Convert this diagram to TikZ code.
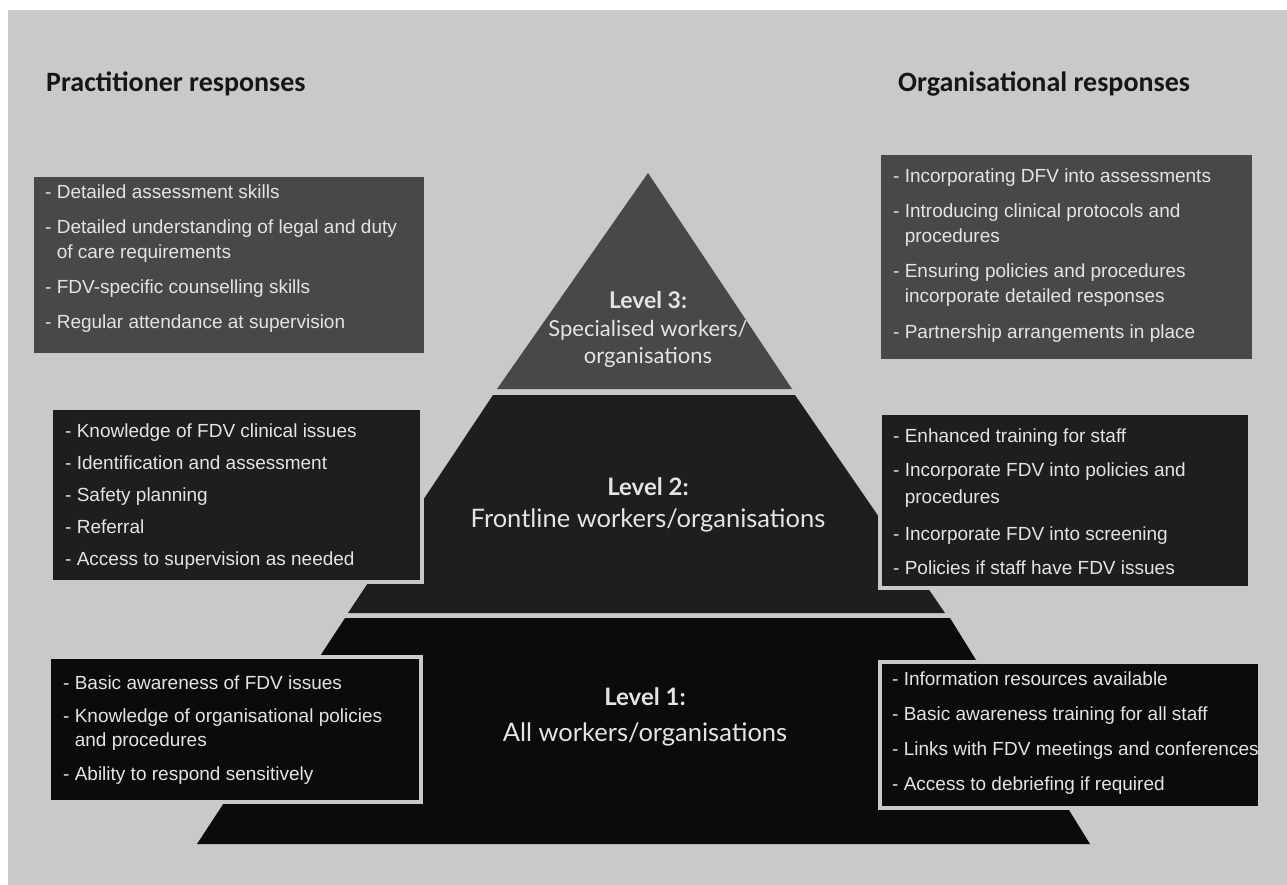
\documentclass[tikz,border=0pt]{standalone}
\usepackage{fontspec}
\setmainfont{Liberation Sans}
\newfontfamily\lvlfont{Lato}
\newfontfamily\ttlfont{Carlito}
\definecolor{bg}{HTML}{C9C9C9}
\definecolor{cthree}{HTML}{484848}
\definecolor{ctwo}{HTML}{1E1E1E}
\definecolor{cone}{HTML}{0B0B0B}
\definecolor{txt}{HTML}{E4E4E4}
\definecolor{ttl}{HTML}{161616}
\newcommand{\ci}{\hphantom{- }}
\newenvironment{lines}{\begin{tabular}[t]{@{}l@{}}}{\end{tabular}}
\begin{document}
\begin{tikzpicture}[x=1pt,y=-1pt,
  box/.style={draw=bg, line width=4pt, inner sep=0pt},
  boxtext/.style={anchor=base west, inner sep=0pt, text=txt,
    font=\fontsize{19}{25}\selectfont},
  lvl/.style={text=txt, align=center, inner sep=0pt, anchor=base},
  title/.style={anchor=base west, inner sep=0pt, text=ttl, font=\ttlfont\bfseries\fontsize{28}{32}\selectfont}]
% background
\useasboundingbox (0,0) rectangle (1287,885);
\fill[white] (0,0) rectangle (1287,885);
\fill[bg] (8,10) rectangle (1287,885);
% pyramid
\fill[cthree] (648,173) -- (792,389) -- (497,389) -- cycle;
\fill[ctwo] (493,395) -- (795,395) -- (945,613) -- (348,613) -- cycle;
\fill[cone] (345,618) -- (950,618) -- (1090,844) -- (197,844) -- cycle;
% level labels
\node[lvl, font=\lvlfont\bfseries\fontsize{23}{27}\selectfont] (l3a) at (648,308) {Level 3:};
\node[lvl, font=\lvlfont\fontsize{22}{27}\selectfont] (l3b) at (648,336) {Specialised workers/};
\node[lvl, font=\lvlfont\fontsize{22}{27}\selectfont] (l3c) at (648,363) {organisations};
\node[lvl, font=\lvlfont\bfseries\fontsize{24}{27}\selectfont] (l2a) at (648,495) {Level 2:};
\node[lvl, font=\lvlfont\fontsize{25.5}{30}\selectfont] (l2b) at (648,527) {Frontline workers/organisations};
\node[lvl, font=\lvlfont\bfseries\fontsize{24}{27}\selectfont] (l1a) at (645,705) {Level 1:};
\node[lvl, font=\lvlfont\fontsize{25.5}{30}\selectfont] (l1b) at (645,741) {All workers/organisations};
% titles
\node[title] (tp) at (46,92) {Practitioner responses};
\node[title] (to) at (898,92) {Organisational responses};
% boxes
\node[box, fill=cthree, minimum width=394pt, minimum height=180pt] (lb1) at (229,265) {};
\node[box, fill=ctwo, minimum width=371pt, minimum height=174pt] (lb2) at (236.5,495) {};
\node[box, fill=cone, minimum width=372pt, minimum height=145pt] (lb3) at (235,729.5) {};
\node[box, fill=cthree, minimum width=375pt, minimum height=208pt] (rb1) at (1066.5,257) {};
\node[box, fill=ctwo, minimum width=370pt, minimum height=175pt] (rb2) at (1065,500.5) {};
\node[box, fill=cone, minimum width=380pt, minimum height=146pt] (rb3) at (1070,735) {};
% box texts
\node[boxtext] (tlb1) at (45,199) {\begin{lines}
- Detailed assessment skills\\[10pt]
- Detailed understanding of legal and duty\\
\ci of care requirements\\[10pt]
- FDV-specific counselling skills\\[10pt]
- Regular attendance at supervision\end{lines}};
\node[boxtext] (tlb2) at (65,437) {\begin{lines}
- Knowledge of FDV clinical issues\\[7pt]
- Identification and assessment\\[7pt]
- Safety planning\\[7pt]
- Referral\\[7pt]
- Access to supervision as needed\end{lines}};
\node[boxtext] (tlb3) at (63,689) {\begin{lines}
- Basic awareness of FDV issues\\[8pt]
- Knowledge of organisational policies\\[-1pt]
\ci and procedures\\[9pt]
- Ability to respond sensitively\end{lines}};
\node[boxtext] (trb1) at (893,183) {\begin{lines}
- Incorporating DFV into assessments\\[10pt]
- Introducing clinical protocols and\\
\ci procedures\\[10pt]
- Ensuring policies and procedures\\
\ci incorporate detailed responses\\[11pt]
- Partnership arrangements in place\end{lines}};
\node[boxtext] (trb2) at (893,442) {\begin{lines}
- Enhanced training for staff\\[9pt]
- Incorporate FDV into policies and\\[2pt]
\ci procedures\\[12pt]
- Incorporate FDV into screening\\[9pt]
- Policies if staff have FDV issues\end{lines}};
\node[boxtext] (trb3) at (892,685) {\begin{lines}
- Information resources available\\[10pt]
- Basic awareness training for all staff\\[10pt]
- Links with FDV meetings and conferences\\[10pt]
- Access to debriefing if required\end{lines}};
\end{tikzpicture}
\end{document}
